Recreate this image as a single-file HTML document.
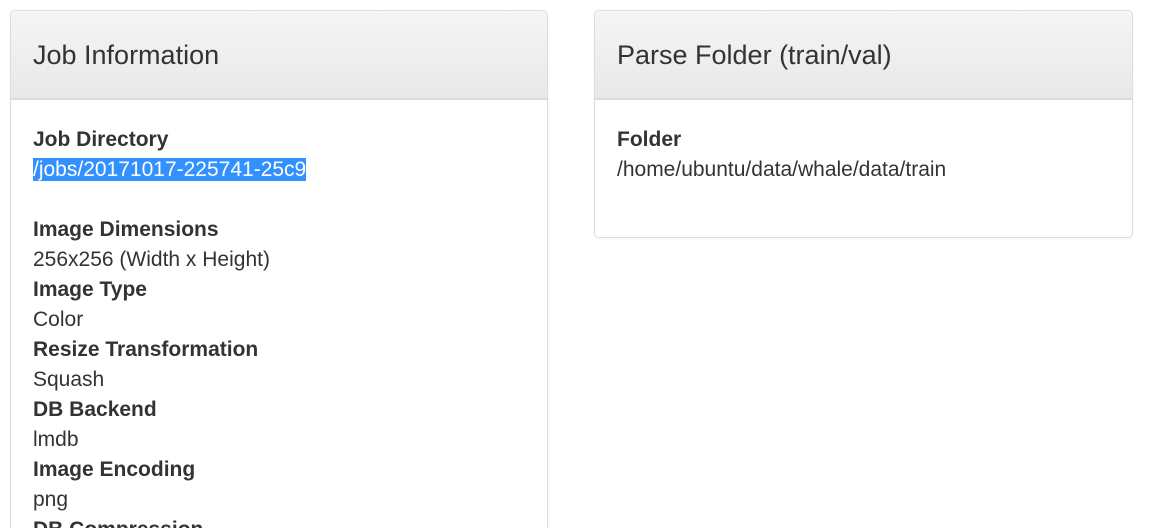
<!DOCTYPE html>
<html style="height:528px;overflow:hidden"><head><style>
body{margin:0;width:1152px;height:528px;overflow:hidden;background:#fff;font-family:"Liberation Sans",sans-serif;color:#333;position:relative}
.p{position:absolute;border:1px solid #ddd;border-radius:5px;background:#fff;box-shadow:0 1px 2px rgba(0,0,0,.05);overflow:hidden}
.h{height:89px;border-bottom:2px solid #ddd;background:linear-gradient(#f5f5f5,#e8e8e8);border-radius:5px 5px 0 0;box-sizing:border-box;padding-left:22px;font-size:27px;line-height:88px}
.b{padding:25px 22px 0;font-size:21px;line-height:30px}
b{font-weight:bold}
.sel{background:#3390ff;color:#fff}
</style></head><body>
<div class="p" style="left:10px;top:10px;width:536px;height:530px">
<div class="h">Job Information</div>
<div class="b">
<b>Job Directory</b><br><span class="sel">/jobs/20171017-225741-25c9</span><br><br>
<b>Image Dimensions</b><br>256x256 (Width x Height)<br>
<b>Image Type</b><br>Color<br>
<b>Resize Transformation</b><br>Squash<br>
<b>DB Backend</b><br>lmdb<br>
<b>Image Encoding</b><br>png<br>
<b>DB Compression</b>
</div></div>
<div class="p" style="left:594px;top:10px;width:537px;height:226px">
<div class="h">Parse Folder (train/val)</div>
<div class="b"><b>Folder</b><br>/home/ubuntu/data/whale/data/train</div>
</div>
</body></html>
